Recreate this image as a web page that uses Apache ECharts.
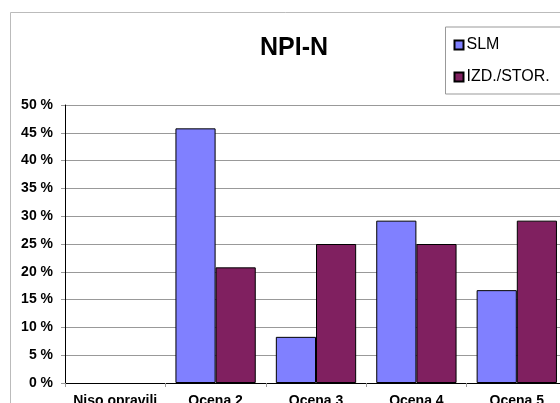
<!DOCTYPE html>
<html>
<head>
<meta charset="utf-8">
<script src="https://cdn.jsdelivr.net/npm/echarts@6/dist/echarts.min.js"></script>
<style>
  html, body { margin: 0; padding: 0; background: #fff; }
  #chart { width: 560px; height: 403px; }
</style>
</head>
<body>
<div id="chart"></div>
<script>
// Kategorije in vrednosti (v odstotkih)
const categories = ['Niso opravili', 'Ocena 2', 'Ocena 3', 'Ocena 4', 'Ocena 5'];
const slmValues = [0, 45.8, 8.3, 29.2, 16.7];
const izdValues = [0, 20.8, 25, 25, 29.2];
const seriesNames = ['SLM', 'IZD./STOR.'];

const chart = echarts.init(document.getElementById('chart'));

const font = 'Liberation Sans, Arial, sans-serif';

// stolpci z vrednostjo 0 se ne rišejo (brez obrobe)
function toBars(values) {
    return values.map(v => v === 0 ? { value: v, itemStyle: { borderWidth: 0 } } : v);
}

chart.setOption({
    animation: false,
    textStyle: { fontFamily: font },
    title: {
        text: 'NPI-N',
        left: 289,
        top: 31,
        textAlign: 'center',
        textStyle: { fontSize: 25, fontWeight: 'bold', color: '#000', fontFamily: font }
    },
    legend: {
        data: seriesNames,
        orient: 'vertical',
        left: 445.5,
        top: 27,
        padding: [10, 40, 9, 8],
        itemGap: 16,
        itemWidth: 9,
        itemHeight: 9,
        icon: 'rect',
        borderColor: '#999',
        borderWidth: 1,
        textStyle: { fontSize: 16, color: '#000', padding: [0, 0, 0, -2], fontFamily: font }
    },
    graphic: [{
        type: 'polyline',
        shape: { points: [[10.5, 403], [10.5, 12.5], [560, 12.5]] },
        style: { stroke: '#bbb', lineWidth: 1, fill: null },
        silent: true
    }],
    grid: { left: 65, top: 105, width: 502, height: 278, containLabel: false, outerBoundsMode: 'none' },
    xAxis: {
        type: 'category',
        data: categories,
        axisLine: { lineStyle: { color: '#000', width: 1 } },
        axisTick: { show: true, length: 4, lineStyle: { color: '#999' } },
        axisLabel: { interval: 0, fontSize: 14, fontWeight: 'bold', color: '#000', margin: 11, fontFamily: font }
    },
    yAxis: {
        type: 'value',
        min: 0,
        max: 50,
        interval: 5,
        axisLine: { show: true, lineStyle: { color: '#000', width: 1 } },
        axisTick: { show: true, length: 4, lineStyle: { color: '#999' } },
        splitLine: { lineStyle: { color: '#999', width: 1 } },
        axisLabel: {
            fontSize: 14, fontWeight: 'bold', color: '#000', margin: 12, fontFamily: font,
            formatter: v => v + ' %'
        }
    },
    series: [{
        name: seriesNames[0],
        type: 'bar',
        data: toBars(slmValues),
        barCategoryGap: '20%',
        barGap: '0%',
        itemStyle: { color: '#8080FF', borderColor: '#000', borderWidth: 1 }
    }, {
        name: seriesNames[1],
        type: 'bar',
        data: toBars(izdValues),
        barCategoryGap: '20%',
        barGap: '0%',
        itemStyle: { color: '#802060', borderColor: '#000', borderWidth: 1 }
    }]
});
</script>
</body>
</html>
